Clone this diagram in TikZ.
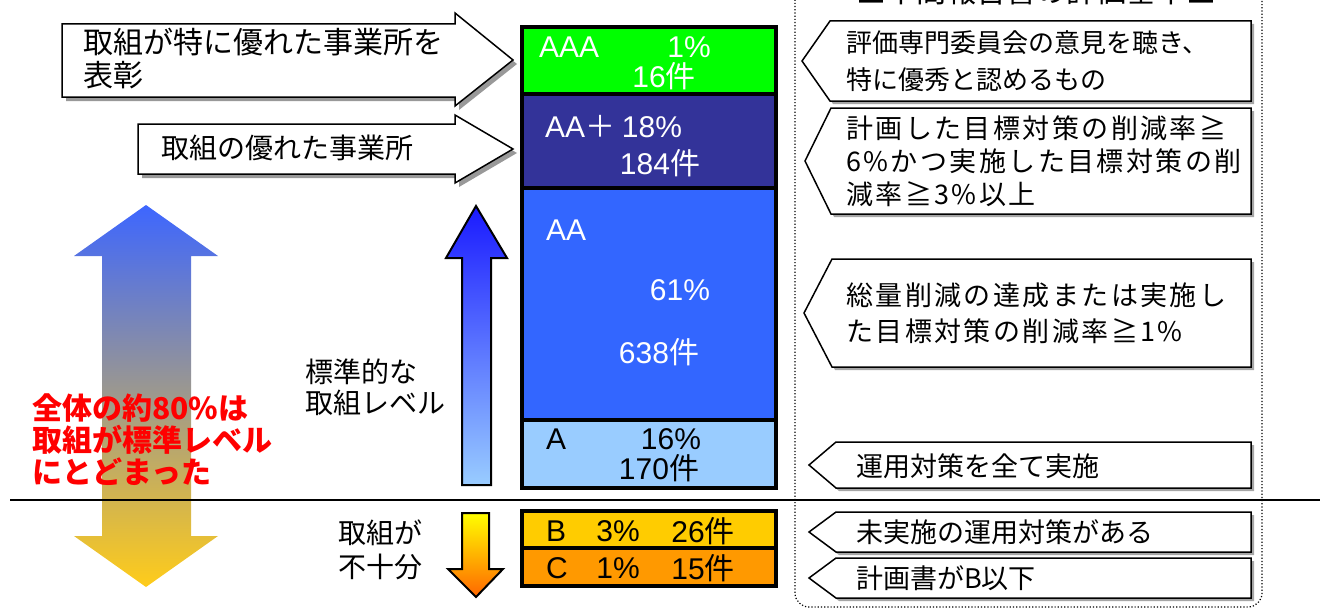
\documentclass[tikz,border=0pt]{standalone}
\usepackage{fontspec}
\setmainfont{Noto Sans CJK JP}
\newfontfamily\jpwide{Noto Sans CJK JP}[LetterSpace=9]
\newfontfamily\lat{Liberation Sans}
\definecolor{cAAA}{HTML}{00FF00}
\definecolor{cAAp}{HTML}{333399}
\definecolor{cAA}{HTML}{3366FF}
\definecolor{cA}{HTML}{99CCFF}
\definecolor{cB}{HTML}{FFCC00}
\definecolor{cC}{HTML}{FF9900}
\definecolor{gTop}{HTML}{3D66FF}
\definecolor{gMid}{HTML}{BAA3BC}
\definecolor{gBot}{HTML}{FFCC1A}
\definecolor{uTop}{HTML}{1A1AFF}
\definecolor{uBot}{HTML}{99CCFF}
\definecolor{dTop}{HTML}{FFFF00}
\definecolor{dBot}{HTML}{FF6600}
\definecolor{redtxt}{HTML}{FF0000}
\tikzset{
  colbox/.style={draw=black, line width=4pt},
  coltxt/.style={font=\fontsize{30}{32}\selectfont, inner sep=0pt},
  critbox/.style={draw=black, line width=1.5pt, fill=white},
  critshadow/.style={fill=black!35},
  crittxt/.style={font=\fontsize{27}{34}\selectfont, align=left, anchor=west, inner sep=0pt},
  lbox/.style={draw=black, line width=1.5pt, fill=white},
  lshadow/.style={fill=black!40},
  plaintxt/.style={align=left, anchor=west, inner sep=0pt}
}
\begin{document}
\begin{tikzpicture}[x=1pt,y=-1pt]
\useasboundingbox (0,0) rectangle (1324,610);
\clip (0,0) rectangle (1324,610);

% dotted frame of criteria column
\draw[dotted, line width=1.2pt, rounded corners=14pt] (795,-40) rectangle (1262,607);
\node[font=\fontsize{30}{32}\selectfont, anchor=base, inner sep=0pt] (title) at (1036,3) {■中間報告書の評価基準■};

% big gradient double arrow
\shade[top color=gTop, middle color=gMid, bottom color=gBot]
  (146,205) -- (218,256) -- (191,256) -- (191,536) -- (218,536) -- (146,587)
  -- (74,536) -- (102,536) -- (102,256) -- (74,256) -- cycle;

% horizontal separator
\draw[line width=1.5pt] (10,500) -- (1320,500);

% left right-pointing arrows with shadow
\begin{scope}[shift={(4,4)}]
\fill[lshadow] (62,24) -- (455,24) -- (455,13) -- (513,60) -- (455,106) -- (455,97) -- (62,97) -- cycle;
\fill[lshadow] (138,124) -- (455,124) -- (455,115) -- (513,149) -- (455,183) -- (455,174) -- (138,174) -- cycle;
\end{scope}
\draw[lbox] (62,24) -- (455,24) -- (455,13) -- (513,60) -- (455,106) -- (455,97) -- (62,97) -- cycle;
\draw[lbox] (138,124) -- (455,124) -- (455,115) -- (513,149) -- (455,183) -- (455,174) -- (138,174) -- cycle;
\node[plaintxt, font=\fontsize{30}{33}\selectfont] (award) at (83,58.5) {取組が特に優れた事業所を\\表彰};
\node[plaintxt, font=\fontsize{28}{32}\selectfont] (good) at (161,148) {取組の優れた事業所};

% red text
\node[plaintxt, font=\fontsize{30}{32}\selectfont\bfseries, text=redtxt] (red) at (32,440) {全体の約80\%は\\取組が標準レベル\\にとどまった};

% small up arrow
\draw[line width=2pt, top color=uTop, bottom color=uBot]
  (476,206) -- (507,258) -- (491,258) -- (491,485) -- (462,485) -- (462,258) -- (446,258) -- cycle;
\node[plaintxt, font=\fontsize{28}{31}\selectfont] (std) at (305,387) {標準的な\\取組レベル};

% small down arrow
\draw[line width=2pt, top color=dTop, bottom color=dBot]
  (462,513) -- (489,513) -- (489,569) -- (503,569) -- (476,597) -- (448,569) -- (462,569) -- cycle;
\node[plaintxt, font=\fontsize{28}{34}\selectfont] (insuf) at (338,550) {取組が\\不十分};

% rating column
\draw[colbox, fill=cAAA] (522,27) rectangle (776,94);
\draw[colbox, fill=cAAp] (522,94) rectangle (776,188);
\draw[colbox, fill=cAA] (522,188) rectangle (776,420);
\draw[colbox, fill=cA] (522,420) rectangle (776,488);
\draw[colbox, fill=cB] (522,511) rectangle (776,548);
\draw[colbox, fill=cC] (522,548) rectangle (776,586);

\node[coltxt, text=white, anchor=west] (aaa) at (539,47) {\lat AAA};
\node[coltxt, text=white] (aaap) at (689,47) {\lat 1\%};
\node[coltxt, text=white] (aaan) at (664,76) {{\lat 16}件};
\node[coltxt, text=white, anchor=west] (aap) at (545,127) {{\lat AA}＋ {\lat 18\%}};
\node[coltxt, text=white] (aapn) at (660,163) {{\lat 184}件};
\node[coltxt, text=white, anchor=west] (aa) at (546,230) {\lat AA};
\node[coltxt, text=white] (aap2) at (680,290) {\lat 61\%};
\node[coltxt, text=white] (aan) at (659,352) {{\lat 638}件};
\node[coltxt, anchor=west] (a) at (546,439) {\lat A};
\node[coltxt] (ap) at (671,439) {\lat 16\%};
\node[coltxt] (an) at (659,468) {{\lat 170}件};
\node[coltxt, anchor=west] (b) at (546,531) {\lat B};
\node[coltxt] (bp) at (618,531) {\lat 3\%};
\node[coltxt] (bn) at (703,531) {{\lat 26}件};
\node[coltxt, anchor=west] (c) at (546,568) {\lat C};
\node[coltxt] (cp) at (618,568) {\lat 1\%};
\node[coltxt] (cn) at (703,568) {{\lat 15}件};

% criteria boxes (pointing left)
\begin{scope}[shift={(3,3)}]
\fill[critshadow] (1251,21) -- (830,21) -- (802,61) -- (830,101) -- (1251,101) -- cycle;
\fill[critshadow] (1251,108) -- (831,108) -- (805,161) -- (831,214) -- (1251,214) -- cycle;
\fill[critshadow] (1251,259) -- (832,259) -- (804,313) -- (832,367) -- (1251,367) -- cycle;
\fill[critshadow] (1251,442) -- (836,442) -- (809,465) -- (836,488) -- (1251,488) -- cycle;
\fill[critshadow] (1251,512) -- (836,512) -- (809,532) -- (836,552) -- (1251,552) -- cycle;
\fill[critshadow] (1251,558) -- (836,558) -- (809,578) -- (836,598) -- (1251,598) -- cycle;
\end{scope}
\draw[critbox] (1251,21) -- (830,21) -- (802,61) -- (830,101) -- (1251,101) -- cycle;
\draw[critbox] (1251,108) -- (831,108) -- (805,161) -- (831,214) -- (1251,214) -- cycle;
\draw[critbox] (1251,259) -- (832,259) -- (804,313) -- (832,367) -- (1251,367) -- cycle;
\draw[critbox] (1251,442) -- (836,442) -- (809,465) -- (836,488) -- (1251,488) -- cycle;
\draw[critbox] (1251,512) -- (836,512) -- (809,532) -- (836,552) -- (1251,552) -- cycle;
\draw[critbox] (1251,558) -- (836,558) -- (809,578) -- (836,598) -- (1251,598) -- cycle;

\node[crittxt, font=\fontsize{26}{37}\selectfont] (k1) at (846,61) {評価専門委員会の意見を聴き、\\特に優秀と認めるもの};
\node[crittxt, font=\jpwide\fontsize{27}{33}\selectfont] (k2) at (846,161) {計画した目標対策の削減率≧\\6\%かつ実施した目標対策の削\\減率≧3\%以上};
\node[crittxt, font=\jpwide\fontsize{27}{36}\selectfont] (k3) at (846,313) {総量削減の達成または実施し\\た目標対策の削減率≧1\%};
\node[crittxt] (k4) at (856,466) {運用対策を全て実施};
\node[crittxt] (k5) at (856,532) {未実施の運用対策がある};
\node[crittxt] (k6) at (856,578) {計画書がB以下};
\end{tikzpicture}
\end{document}
